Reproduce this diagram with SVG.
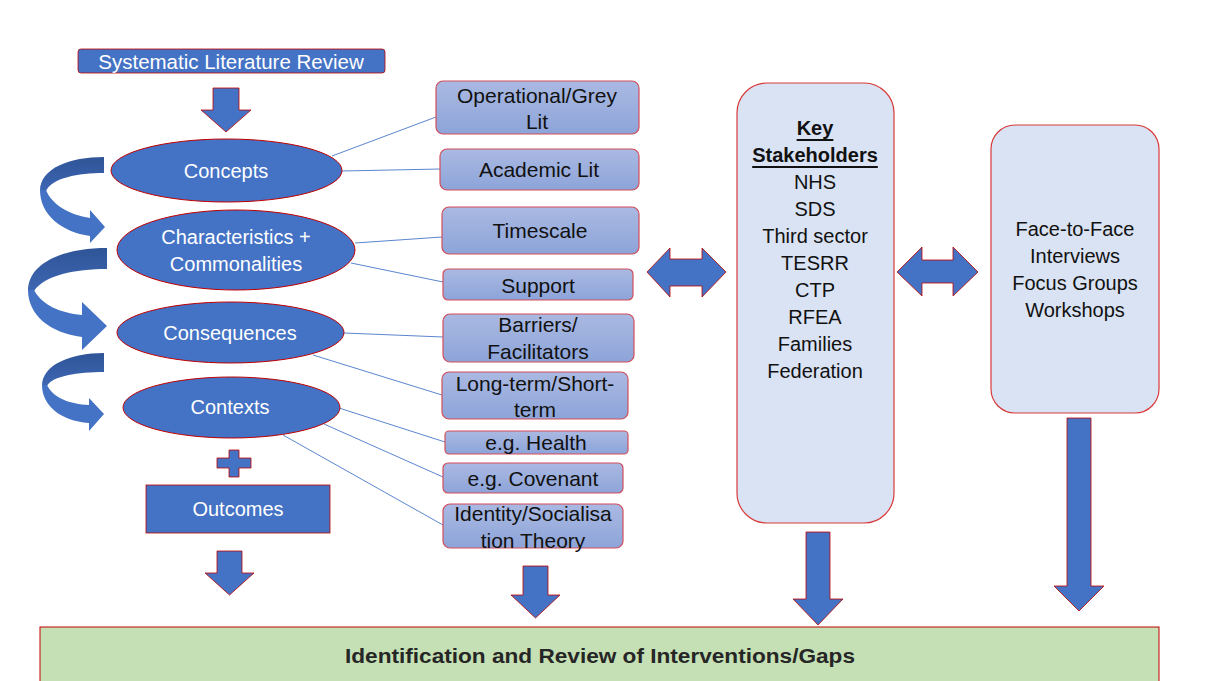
<svg xmlns="http://www.w3.org/2000/svg" width="1206" height="681" viewBox="0 0 1206 681">
  <defs>
    <linearGradient id="boxGrad" x1="0" y1="0" x2="0" y2="1">
      <stop offset="0" stop-color="#AAB9E2"/>
      <stop offset="1" stop-color="#8DA4D9"/>
    </linearGradient>
    <linearGradient id="ribbonTop" x1="0" y1="0" x2="0" y2="1">
      <stop offset="0" stop-color="#2F5597"/>
      <stop offset="1" stop-color="#3D66B3"/>
    </linearGradient>
  </defs>
  <style>
    .blue { fill: #4472C4; stroke: #C00000; stroke-width: 0.8; }
    .ell { fill: #4472C4; stroke: #C00000; stroke-width: 1; }
    .lbl { fill: #FFFFFF; font-family: "Liberation Sans", Arial, sans-serif; font-size: 20px; text-anchor: middle; dominant-baseline: central; }
    .box { fill: url(#boxGrad); stroke: #D24E5A; stroke-width: 1.2; }
    .btxt { fill: #111111; font-family: "Liberation Sans", Arial, sans-serif; font-size: 21px; text-anchor: middle; dominant-baseline: central; }
    .panel { fill: #DAE3F3; stroke: #D83A3A; stroke-width: 1.2; }
    .ptxt { fill: #111111; font-family: "Liberation Sans", Arial, sans-serif; font-size: 20px; text-anchor: middle; dominant-baseline: central; }
    .link { stroke: #5B86CF; stroke-width: 1; fill: none; }
    .arrow { fill: #4472C4; stroke: #C00000; stroke-width: 0.8; }
    .rib-top { fill: url(#ribbonTop); }
    .rib-low { fill: #4472C4; }
  </style>

  <rect width="1206" height="681" fill="#FFFFFF"/>

  <!-- connectors: thin lines from the ellipses to their detail boxes -->
  <g id="connectors">
    <line class="link" x1="332" y1="156" x2="436" y2="117"/>
    <line class="link" x1="342" y1="171" x2="440" y2="169"/>
    <line class="link" x1="355" y1="243" x2="442" y2="237"/>
    <line class="link" x1="351" y1="263" x2="443" y2="282"/>
    <line class="link" x1="344" y1="333" x2="443" y2="337"/>
    <line class="link" x1="313" y1="355" x2="442" y2="395"/>
    <line class="link" x1="339" y1="408" x2="445" y2="442"/>
    <line class="link" x1="324" y1="424" x2="443" y2="477"/>
    <line class="link" x1="283" y1="435" x2="443" y2="525"/>
  </g>

  <!-- block arrows -->
  <g id="arrows">
    <!-- down arrows -->
    <path class="arrow" d="M213,88 H239 V110 H251 L226,132 L201,110 H213 Z"/>
    <path class="arrow" d="M217,551 H242 V573 H254 L229.5,595 L205,573 H217 Z"/>
    <path class="arrow" d="M523,566 H548 V595 H560 L535.5,618 L511,595 H523 Z"/>
    <path class="arrow" d="M806,532 H830 V599 H843 L818,625 L793,599 H806 Z"/>
    <path class="arrow" d="M1067,418 H1091 V586 H1104 L1079,611 L1054,586 H1067 Z"/>
    <!-- double-headed arrows -->
    <path class="arrow" d="M647,272 L670,248 V259 H702 V248 L726,272 L702,297 V286 H670 V297 Z"/>
    <path class="arrow" d="M897,272 L922,247 V260 H953 V247 L978,272 L953,296 V283 H922 V296 Z"/>
    <!-- curved ribbon arrows on the left -->
    <path class="rib-top" d="M104,157 L104,173 C78,173 52,178 46,191 L40,191 C40,168 70,157 104,157 Z"/>
    <path class="rib-low" d="M40,190 L46,190 C52,205 70,215 90,218 L90,210 L105,227 L90,243 L90,236 C62,232 40,215 40,190 Z"/>
    <path class="rib-top" d="M107,248 L107,269 C75,269 45,275 34,291 L28,291 C28,262 65,248 107,248 Z"/>
    <path class="rib-low" d="M28,290 L34,290 C42,305 60,313 82,315 L82,302 L107,326 L82,350 L82,337 C50,333 28,315 28,290 Z"/>
    <path class="rib-top" d="M104,353 L104,372 C78,372 52,376 47,386 L42,386 C42,365 70,353 104,353 Z"/>
    <path class="rib-low" d="M42,385 L47,385 C53,398 70,404 89,405 L89,398 L104,414 L89,431 L89,423 C60,421 42,405 42,385 Z"/>
    <!-- plus sign -->
    <path class="arrow" d="M229,450 H239 V458 H251 V468 H239 V477 H229 V468 H217 V458 H229 Z"/>
  </g>

  <!-- left column -->
  <g id="slr">
    <rect class="blue" x="78" y="49" width="307" height="24" rx="3"/>
    <text class="lbl" x="231" y="61.5" style="font-size:20.5px">Systematic Literature Review</text>
  </g>
  <g id="concepts">
    <ellipse class="ell" cx="226.5" cy="170.5" rx="115.5" ry="31.5"/>
    <text class="lbl" x="226" y="171">Concepts</text>
  </g>
  <g id="characteristics">
    <ellipse class="ell" cx="236" cy="250" rx="119" ry="40"/>
    <text class="lbl" x="236" y="237">Characteristics +</text>
    <text class="lbl" x="236" y="264">Commonalities</text>
  </g>
  <g id="consequences">
    <ellipse class="ell" cx="230.5" cy="332.5" rx="113.5" ry="30.5"/>
    <text class="lbl" x="230" y="333">Consequences</text>
  </g>
  <g id="contexts">
    <ellipse class="ell" cx="231.5" cy="407.5" rx="108.5" ry="30.5"/>
    <text class="lbl" x="230" y="407">Contexts</text>
  </g>
  <g id="outcomes">
    <rect class="blue" x="146" y="485" width="184" height="48"/>
    <text class="lbl" x="238" y="509">Outcomes</text>
  </g>

  <!-- detail boxes -->
  <g id="grey-lit">
    <rect class="box" x="436" y="81" width="203" height="53" rx="7"/>
    <text class="btxt" x="537" y="95">Operational/Grey</text>
    <text class="btxt" x="537" y="121">Lit</text>
  </g>
  <g id="academic-lit">
    <rect class="box" x="440" y="149" width="199" height="41" rx="7"/>
    <text class="btxt" x="539" y="169">Academic Lit</text>
  </g>
  <g id="timescale">
    <rect class="box" x="442" y="207" width="197" height="47" rx="7"/>
    <text class="btxt" x="540" y="230">Timescale</text>
  </g>
  <g id="support">
    <rect class="box" x="443" y="269" width="190" height="31" rx="5"/>
    <text class="btxt" x="538" y="285">Support</text>
  </g>
  <g id="barriers">
    <rect class="box" x="443" y="314" width="191" height="48" rx="7"/>
    <text class="btxt" x="538" y="324">Barriers/</text>
    <text class="btxt" x="538" y="351">Facilitators</text>
  </g>
  <g id="term">
    <rect class="box" x="442" y="372" width="186" height="47" rx="7"/>
    <text class="btxt" x="535" y="383">Long-term/Short-</text>
    <text class="btxt" x="535" y="409">term</text>
  </g>
  <g id="health">
    <rect class="box" x="445" y="431" width="183" height="23" rx="4"/>
    <text class="btxt" x="536" y="442">e.g. Health</text>
  </g>
  <g id="covenant">
    <rect class="box" x="443" y="463" width="180" height="30" rx="5"/>
    <text class="btxt" x="533" y="478">e.g. Covenant</text>
  </g>
  <g id="identity">
    <rect class="box" x="443" y="504" width="180" height="44" rx="7"/>
    <text class="btxt" x="533" y="513">Identity/Socialisa</text>
    <text class="btxt" x="533" y="540">tion Theory</text>
  </g>

  <!-- stakeholder panel -->
  <g id="stakeholders">
    <rect class="panel" x="737" y="83" width="157" height="440" rx="30"/>
    <text class="ptxt" x="815" y="128" style="font-weight:bold;text-decoration:underline">Key</text>
    <text class="ptxt" x="815" y="155" style="font-weight:bold;text-decoration:underline">Stakeholders</text>
    <text class="ptxt" x="815" y="182">NHS</text>
    <text class="ptxt" x="815" y="209">SDS</text>
    <text class="ptxt" x="815" y="236">Third sector</text>
    <text class="ptxt" x="815" y="263">TESRR</text>
    <text class="ptxt" x="815" y="290">CTP</text>
    <text class="ptxt" x="815" y="317">RFEA</text>
    <text class="ptxt" x="815" y="344">Families</text>
    <text class="ptxt" x="815" y="371">Federation</text>
  </g>

  <!-- methods panel -->
  <g id="methods">
    <rect class="panel" x="991" y="125" width="168" height="288" rx="24"/>
    <text class="ptxt" x="1075" y="229">Face-to-Face</text>
    <text class="ptxt" x="1075" y="256">Interviews</text>
    <text class="ptxt" x="1075" y="283">Focus Groups</text>
    <text class="ptxt" x="1075" y="310">Workshops</text>
  </g>

  <!-- outcome bar -->
  <g id="interventions">
    <rect x="40" y="627" width="1119" height="60" fill="#C5E0B4" stroke="#C00000" stroke-width="1"/>
    <text x="600" y="656" fill="#262626" font-family="'Liberation Sans', Arial, sans-serif" font-size="20" font-weight="bold" text-anchor="middle" dominant-baseline="central" textLength="510" lengthAdjust="spacingAndGlyphs">Identification and Review of Interventions/Gaps</text>
  </g>
</svg>
